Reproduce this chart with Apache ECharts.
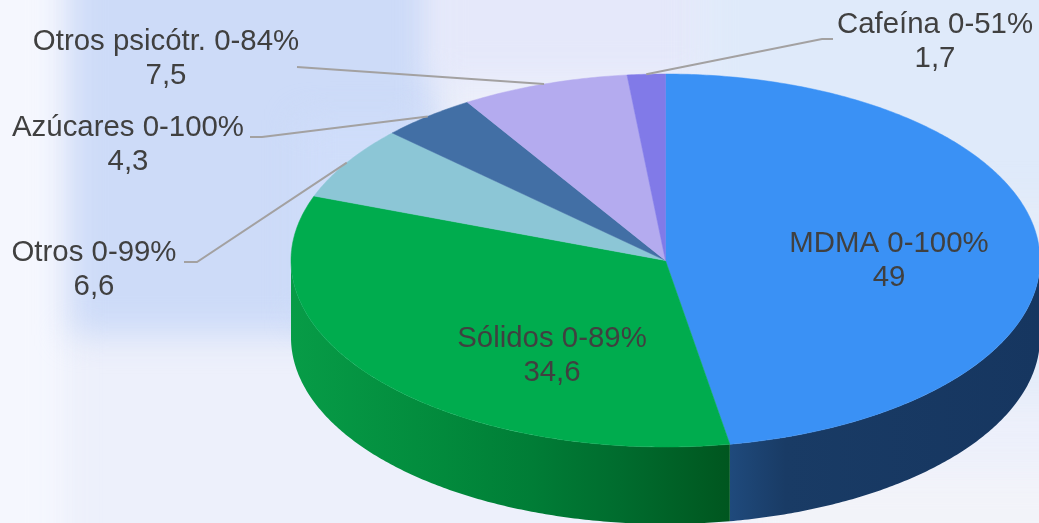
<!DOCTYPE html>
<html>
<head>
<meta charset="utf-8">
<script src="https://cdn.jsdelivr.net/npm/echarts@6/dist/echarts.min.js"></script>
<style>
html,body{margin:0;padding:0;width:1039px;height:523px;overflow:hidden;background:#eceffb}
.bg{position:absolute;filter:blur(16px)}
#wrap{position:absolute;left:0;top:0;width:1039px;height:523px;overflow:hidden}
#main{position:absolute;left:0;top:0;width:1039px;height:523px}
</style>
</head>
<body>
<div id="wrap">
  <div class="bg" style="left:-40px;top:-40px;width:1140px;height:610px;background:#edf0fb"></div>
  <div class="bg" style="left:-40px;top:-40px;width:104px;height:610px;background:#f5f7fe"></div>
  <div class="bg" style="left:70px;top:-40px;width:365px;height:375px;background:#cddbf8"></div>
  <div class="bg" style="left:300px;top:120px;width:120px;height:200px;background:#cfddfa"></div>
  <div class="bg" style="left:430px;top:-40px;width:280px;height:120px;background:#e5e8fa"></div>
  <div class="bg" style="left:700px;top:-40px;width:380px;height:270px;background:#dfeafa"></div>
  <div class="bg" style="left:960px;top:200px;width:120px;height:200px;background:#e4ecf9"></div>
  <div class="bg" style="left:740px;top:470px;width:340px;height:90px;background:#f2f3f9"></div>
</div>
<div id="main"></div>
<script>
var categories = ['MDMA 0-100%', 'Sólidos 0-89%', 'Otros 0-99%', 'Azúcares 0-100%', 'Otros psicótr. 0-84%', 'Cafeína 0-51%'];
var values = [49, 34.6, 6.6, 4.3, 7.5, 1.7];
var topColors = ['#3a91f5', '#00ac4e', '#8cc6d6', '#426fa5', '#b4abef', '#817ae8'];

// Layout only (pixels): pie projection, label centres, leader-line elbows
var CX = 665.5, CY = 260.5, RX = 374.5, RY = 186.5, DEPTH = 77;
var labelPos = [[889, 261], [552, 356], [94, 270], [128, 145], [166, 59], [935, 42]];
var leaderElbows = [null, null, [[197, 262], [184, 262]], [[262, 137], [250, 137]], [[297, 67]], [[822, 39], [833, 39]]];
var sideGradients = [
  [[0, '#1f4a7c'], [0.18, '#193b65'], [1, '#163660']],
  [[0, '#079c47'], [0.35, '#028a3c'], [0.55, '#007d36'], [0.75, '#006c2e'], [1, '#00561f']]
];
var sideSpan = [[730, 1040], [290, 730]];

var total = values.reduce(function (a, b) { return a + b; }, 0);
var starts = [], acc = 0;
values.forEach(function (v) { starts.push(acc); acc += v; });

function pt(theta, dy) {
  return [CX + RX * Math.sin(theta), CY - RY * Math.cos(theta) + (dy || 0)];
}
function arcPts(a0, a1, dy) {
  var n = Math.max(2, Math.ceil(Math.abs(a1 - a0) / 0.01)), out = [];
  for (var i = 0; i <= n; i++) out.push(pt(a0 + (a1 - a0) * i / n, dy));
  return out;
}

function renderItem(params, api) {
  var i = params.dataIndex;
  var v = api.value(0);
  var a0 = starts[i] / total * 2 * Math.PI;
  var a1 = a0 + v / total * 2 * Math.PI;
  var mid = (a0 + a1) / 2;
  var children = [];

  // Visible wall: the front half of the disc
  var s0 = Math.max(a0, Math.PI / 2), s1 = Math.min(a1, Math.PI * 1.5);
  if (s1 > s0) {
    var wall = arcPts(s0, s1, 0).concat(arcPts(s1, s0, DEPTH));
    children.push({
      type: 'polygon', z2: 1,
      shape: { points: wall },
      style: {
        fill: {
          type: 'linear', global: true,
          x: sideSpan[i][0], y: 0, x2: sideSpan[i][1], y2: 0,
          colorStops: sideGradients[i].map(function (s) { return { offset: s[0], color: s[1] }; })
        }
      }
    });
  }

  // Top face
  children.push({
    type: 'polygon', z2: 2,
    shape: { points: [[CX, CY]].concat(arcPts(a0, a1, 0)) },
    style: { fill: topColors[i] , stroke: topColors[i], lineWidth: 0.5 }
  });

  // Leader line from the slice's mid-angle on the rim
  if (leaderElbows[i]) {
    children.push({
      type: 'polyline', z2: 3,
      shape: { points: [pt(mid, 0)].concat(leaderElbows[i]) },
      style: { fill: 'none', stroke: '#a3a1a1', lineWidth: 2 }
    });
  }

  // Label
  children.push({
    type: 'text', z2: 4,
    style: {
      x: labelPos[i][0], y: labelPos[i][1],
      text: categories[i] + '\n' + String(v).replace('.', ','),
      font: '29.4px "Liberation Sans", Arial, sans-serif',
      lineHeight: 34,
      fill: '#404040',
      align: 'center',
      verticalAlign: 'middle'
    }
  });
  return { type: 'group', children: children };
}

var chart = echarts.init(document.getElementById('main'), null, { renderer: 'canvas' });
chart.setOption({
  backgroundColor: 'transparent',
  animation: false,
  series: [{
    type: 'custom',
    coordinateSystem: 'none',
    renderItem: renderItem,
    data: values.map(function (v) { return [v]; }),
    silent: true
  }]
});
</script>
</body>
</html>
